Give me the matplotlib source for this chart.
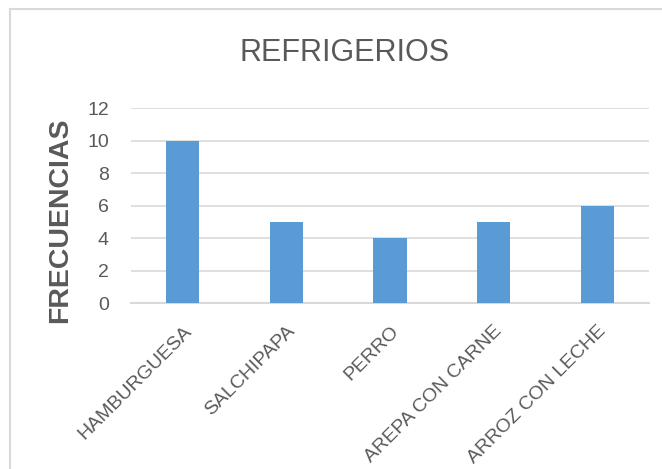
import matplotlib.pyplot as plt
from matplotlib.lines import Line2D

# data
categorias = ["HAMBURGUESA", "SALCHIPAPA", "PERRO", "AREPA CON CARNE", "ARROZ CON LECHE"]
frecuencias = [10, 5, 4, 5, 6]
y_ticks = [0, 2, 4, 6, 8, 10, 12]

gris = "#595959"
linea = "#D9D9D9"
azul = "#5B9BD5"
fuente = ["Liberation Sans", "DejaVu Sans"]

fig = plt.figure(figsize=(6.62, 4.69), dpi=100)
ax = fig.add_axes([131 / 662, 1 - 303 / 469, (649 - 131) / 662, (303 - 108.3) / 469])

x = range(len(categorias))
ax.bar(x, frecuencias, width=0.32, color=azul, zorder=3)

ax.set_xlim(-0.5, len(categorias) - 0.5)
ax.set_ylim(0, 12)
ax.set_yticks(y_ticks)
ax.set_yticklabels([str(v) for v in y_ticks], fontsize=14, color=gris, family=fuente)
ax.yaxis.grid(True, color=linea, linewidth=1.2, zorder=0)
ax.tick_params(axis="y", length=0, pad=16)

ax.set_xticks(list(x))
ax.set_xticklabels(categorias, rotation=45, ha="right", rotation_mode="anchor",
                   fontsize=14, color=gris, family=fuente)
ax.tick_params(axis="x", length=0, pad=14)

for s in ["top", "right", "left"]:
    ax.spines[s].set_visible(False)
ax.spines["bottom"].set_color(linea)
ax.spines["bottom"].set_linewidth(1.5)

# y axis title placed by hand (sits a little lower than the axes centre)
fig.text(60 / 662, 1 - 220 / 469, "FRECUENCIAS", ha="center", va="center", rotation=90,
         fontsize=20.5, fontweight="bold", color=gris, family=fuente)

fig.text(345 / 662, 1 - 53 / 469, "REFRIGERIOS", ha="center", va="center",
         fontsize=22, color=gris, family=fuente)

# chart border (light gray frame, cut at the right and bottom)
fig.add_artist(Line2D([10 / 662, 10 / 662], [0, 1 - 9 / 469], transform=fig.transFigure,
                      color=linea, linewidth=1.5))
fig.add_artist(Line2D([10 / 662, 1], [1 - 9 / 469, 1 - 9 / 469], transform=fig.transFigure,
                      color=linea, linewidth=1.5))

fig.savefig("out.png", dpi=100)
